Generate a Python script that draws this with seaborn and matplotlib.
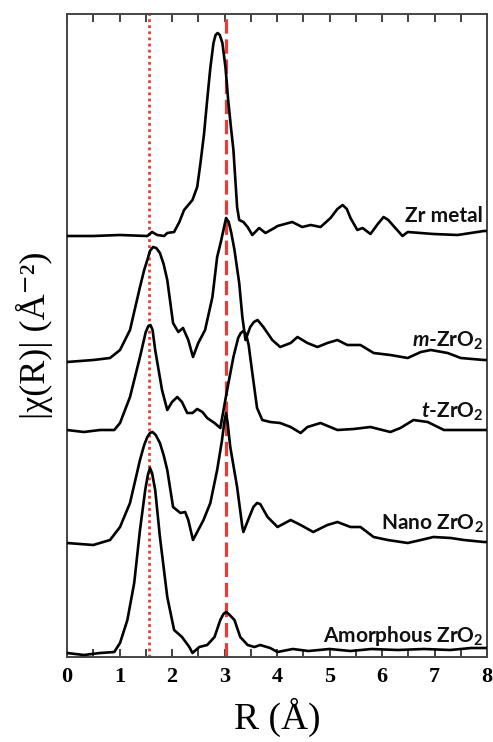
import numpy as np
import pandas as pd
import matplotlib
matplotlib.use('Agg')
import matplotlib.pyplot as plt
from matplotlib.ticker import MultipleLocator
import seaborn as sns

sns.set_theme(style='white')
plt.rcParams['mathtext.fontset'] = 'custom'
plt.rcParams['mathtext.rm'] = 'Lato:bold'
plt.rcParams['mathtext.it'] = 'Lato:italic:bold'
plt.rcParams['mathtext.bf'] = 'Lato:bold'

# |chi(R)| traces (R in Angstrom, intensity above each baseline)
zr_r = [0.0, 0.5, 1.0, 1.53, 1.62, 1.72, 1.85, 1.91, 2.04, 2.14, 2.23, 2.39, 2.48, 2.54,
        2.61, 2.67, 2.73, 2.79, 2.83, 2.87, 2.91, 2.96, 3.02, 3.07, 3.12, 3.17, 3.24,
        3.28, 3.36, 3.44, 3.53, 3.66, 3.78, 3.95,
        4.01, 4.29, 4.48, 4.64, 4.83, 5.02, 5.15, 5.25, 5.33, 5.40, 5.53, 5.63, 5.78,
        5.92, 6.03, 6.12, 6.22, 6.39, 6.49, 6.98, 7.44, 7.94, 8.0]
zr_i = [0.0, 0.0, 0.01, 0.0, 0.04, 0.01, 0.0, 0.03, 0.04, 0.14, 0.26, 0.36, 0.49, 0.72,
        1.02, 1.36, 1.68, 1.93, 2.01, 2.03, 2.01, 1.93, 1.68, 1.36, 1.10, 0.86, 0.29,
        0.16, 0.14, 0.09, 0.01, 0.08, 0.03, 0.08,
        0.10, 0.14, 0.09, 0.11, 0.09, 0.18, 0.27, 0.31, 0.27, 0.18, 0.06, 0.08, 0.02,
        0.12, 0.19, 0.16, 0.10, 0.0, 0.04, 0.02, 0.01, 0.05, 0.05]

m_r = [0.0, 0.5, 0.82, 1.01, 1.20, 1.39, 1.47, 1.53, 1.58, 1.64, 1.70, 1.77, 1.84, 1.91,
       2.02, 2.12, 2.21, 2.31, 2.40, 2.50, 2.63, 2.77, 2.86, 2.93, 2.98, 3.03, 3.08,
       3.13, 3.19, 3.28, 3.34, 3.40, 3.49, 3.56, 3.63,
       3.74, 3.91, 4.06, 4.26, 4.39, 4.58, 4.77, 4.96, 5.15, 5.34, 5.59, 5.84, 6.16,
       6.49, 6.74, 6.93, 7.25, 7.50, 7.94, 8.0]
m_i = [-0.02, 0.0, 0.02, 0.10, 0.30, 0.73, 0.90, 1.00, 1.09, 1.13, 1.12, 1.07, 0.96, 0.80,
       0.37, 0.28, 0.32, 0.20, 0.03, 0.17, 0.30, 0.63, 1.03, 1.18, 1.30, 1.42, 1.38,
       1.27, 1.10, 0.77, 0.43, 0.20, 0.33, 0.38, 0.40,
       0.33, 0.20, 0.13, 0.17, 0.23, 0.17, 0.13, 0.17, 0.20, 0.15, 0.15, 0.07, 0.05,
       0.02, 0.08, 0.10, 0.07, 0.02, 0.0, 0.0]

t_r = [0.0, 0.32, 0.63, 0.90, 1.01, 1.20, 1.39, 1.50, 1.55, 1.59, 1.63, 1.68, 1.81, 1.91,
       2.00, 2.10, 2.19, 2.29, 2.39, 2.48, 2.58, 2.67, 2.81, 2.92, 3.05, 3.17, 3.26,
       3.31, 3.36, 3.41, 3.46, 3.53, 3.62, 3.72, 3.87, 4.06, 4.26, 4.45, 4.58, 4.83,
       5.15, 5.46, 5.78, 6.16, 6.35, 6.60, 6.87, 7.18, 7.56, 7.94, 8.0]
t_i = [0.0, -0.02, 0.0, 0.0, 0.07, 0.33, 0.73, 0.98, 1.04, 1.05, 1.00, 0.80, 0.40, 0.20,
       0.28, 0.33, 0.28, 0.17, 0.17, 0.21, 0.18, 0.12, 0.07, 0.02, 0.40, 0.73, 0.92,
       0.97, 0.99, 0.96, 0.85, 0.57, 0.22, 0.10, 0.08, 0.07, 0.03, -0.03, 0.03, 0.07,
       0.0, 0.01, 0.03, -0.02, 0.02, 0.10, 0.08, 0.0, 0.0, 0.0, 0.0]

nano_r = [0.0, 0.5, 0.82, 1.01, 1.20, 1.39, 1.47, 1.53, 1.58, 1.63, 1.69, 1.77, 1.84, 1.91,
          2.02, 2.16, 2.25, 2.31, 2.40, 2.50, 2.60, 2.73, 2.86, 2.95, 3.00, 3.03, 3.06,
          3.11, 3.24, 3.34, 3.36, 3.45, 3.55, 3.62, 3.68, 3.82, 4.01, 4.26, 4.45, 4.69,
          4.96, 5.15, 5.40, 5.59, 5.84, 6.11, 6.49, 6.74, 6.98, 7.31, 7.56, 7.94, 8.0]
nano_i = [0.0, -0.02, 0.03, 0.16, 0.40, 0.83, 0.98, 1.06, 1.10, 1.11, 1.08, 1.00, 0.88, 0.73,
          0.36, 0.30, 0.31, 0.23, 0.03, 0.13, 0.23, 0.40, 0.73, 1.02, 1.22, 1.30, 1.20,
          0.96, 0.56, 0.16, 0.11, 0.23, 0.36, 0.40, 0.39, 0.26, 0.16, 0.23, 0.18, 0.11,
          0.18, 0.21, 0.16, 0.16, 0.06, 0.03, 0.0, 0.03, 0.06, 0.05, 0.03, 0.01, 0.01]

am_r = [0.0, 0.32, 0.63, 0.90, 1.01, 1.15, 1.28, 1.39, 1.49, 1.54, 1.58, 1.62, 1.68, 1.77,
        1.91, 2.04, 2.19, 2.33, 2.39, 2.52, 2.67, 2.81, 2.92, 2.98, 3.03, 3.08, 3.19,
        3.30, 3.44, 3.57, 3.68, 3.87, 4.01, 4.3, 4.6, 5.0, 5.4, 5.8, 6.3, 6.8, 7.3,
        7.7, 8.0]
am_i = [0.0, -0.02, 0.0, 0.01, 0.10, 0.33, 0.70, 1.23, 1.63, 1.78, 1.85, 1.80, 1.63, 1.16,
        0.56, 0.23, 0.16, 0.06, 0.0, 0.06, 0.08, 0.16, 0.33, 0.39, 0.41, 0.39, 0.33,
        0.16, 0.08, 0.06, 0.08, 0.05, 0.01, 0.04, 0.02, 0.04, 0.02, 0.04, 0.03, 0.04,
        0.03, 0.05, 0.05]

samples = ['Zr metal', r'$\mathit{m}$-ZrO$_2$', r'$\mathit{t}$-ZrO$_2$',
           r'Nano ZrO$_2$', r'Amorphous ZrO$_2$']
traces = [(zr_r, zr_i), (m_r, m_i), (t_r, t_i), (nano_r, nano_i), (am_r, am_i)]
offsets = [4.21, 2.97, 2.27, 1.14, 0.04]
label_y = [4.35, 3.10, 2.39, 1.27, 0.15]

# reference positions of the Zr-O and Zr-Zr shells
r_zr_o = 1.57
r_zr_zr = 3.03

fig = plt.figure(figsize=(4.93, 7.42), dpi=100)
ax = fig.add_axes([67 / 493, 1 - 657 / 742, 420 / 493, 643 / 742])

red = '#e0403c'
ax.axvline(r_zr_o, color=red, lw=2.0, ls=(0, (1, 1.2)), zorder=1)
ax.axvline(r_zr_zr, color=red, lw=2.3, ls=(0, (4.5, 1.8)), zorder=1)

for name, (r, i), off, ly in zip(samples, traces, offsets, label_y):
    df = pd.DataFrame({'R': r, 'chi': np.array(i) + off})
    sns.lineplot(data=df, x='R', y='chi', ax=ax, color='black', lw=1.9,
                 sort=False, estimator=None, zorder=3)
    ax.text(7.93, ly, name, ha='right', va='baseline', fontsize=15,
            family='Lato', weight='bold', color='#111111')

ax.set_xlim(0, 8)
ax.set_ylim(0, 6.43)
ax.set_yticks([])
ax.xaxis.set_major_locator(MultipleLocator(1))
ax.xaxis.set_minor_locator(MultipleLocator(0.5))
ax.tick_params(axis='x', which='both', direction='in', top=True, bottom=True,
               length=6, width=1.3, color='#333333')
for lab in ax.get_xticklabels():
    lab.set_family('Liberation Serif')
    lab.set_weight('bold')
    lab.set_fontsize(16)
    lab.set_color('black')
ax.tick_params(axis='x', pad=7)
for s in ax.spines.values():
    s.set_color('#444444')
    s.set_linewidth(1.4)

ax.set_xlabel('R (Å)', family=['Liberation Serif', 'DejaVu Serif'], fontsize=27,
              color='black', labelpad=8)
ax.set_ylabel('|χ(R)| (Å⁻²)', family=['Liberation Serif', 'DejaVu Serif'], fontsize=26,
              color='black', labelpad=10)

fig.savefig('out.png', dpi=100)
